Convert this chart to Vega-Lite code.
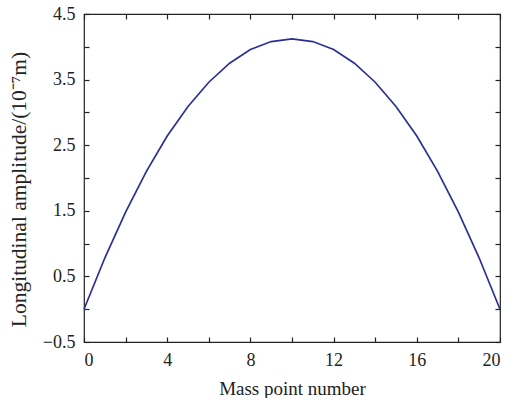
{
  "$schema": "https://vega.github.io/schema/vega-lite/v6.json",
  "width": 416,
  "height": 328,
  "autosize": {"type": "none"},
  "padding": {"left": 84, "top": 14, "right": 22, "bottom": 56},
  "background": "white",
  "config": {
    "view": {"stroke": "#222", "strokeWidth": 1.2},
    "axis": {
      "grid": false,
      "domain": false,
      "tickColor": "#222",
      "tickWidth": 1.2,
      "tickSize": -5,
      "labelFont": "Liberation Serif",
      "labelFontSize": 18,
      "labelColor": "#222",
      "titleFont": "Liberation Serif",
      "titleFontSize": 19,
      "titleFontWeight": "normal",
      "titleColor": "#222"
    }
  },
  "data": {
    "values": [
      {"point": 0, "amp": 0.0},
      {"point": 1, "amp": 0.78},
      {"point": 2, "amp": 1.48},
      {"point": 3, "amp": 2.10},
      {"point": 4, "amp": 2.64},
      {"point": 5, "amp": 3.09},
      {"point": 6, "amp": 3.46},
      {"point": 7, "amp": 3.75},
      {"point": 8, "amp": 3.96},
      {"point": 9, "amp": 4.08},
      {"point": 10, "amp": 4.12},
      {"point": 11, "amp": 4.08},
      {"point": 12, "amp": 3.96},
      {"point": 13, "amp": 3.75},
      {"point": 14, "amp": 3.46},
      {"point": 15, "amp": 3.09},
      {"point": 16, "amp": 2.64},
      {"point": 17, "amp": 2.10},
      {"point": 18, "amp": 1.48},
      {"point": 19, "amp": 0.78},
      {"point": 20, "amp": 0.0}
    ]
  },
  "layer": [
    {
      "mark": {"type": "line", "color": "#2b2f96", "strokeWidth": 1.7},
      "encoding": {
        "x": {
          "field": "point",
          "type": "quantitative",
          "scale": {"domain": [0, 20], "nice": false},
          "axis": {
            "title": "Mass point number",
            "values": [0, 2, 4, 6, 8, 10, 12, 14, 16, 18, 20],
            "labelExpr": "datum.value % 4 === 0 ? datum.value : ''",
            "labelPadding": 14,
            "titlePadding": 10
          }
        },
        "y": {
          "field": "amp",
          "type": "quantitative",
          "scale": {"domain": [-0.5, 4.5], "nice": false, "zero": false},
          "axis": {
            "title": "Longitudinal amplitude/(10⁻⁷m)",
            "titleFontSize": 21.5,
            "titleY": 175,
            "values": [-0.5, 0, 0.5, 1, 1.5, 2, 2.5, 3, 3.5, 4, 4.5],
            "labelExpr": "abs(round(datum.value * 2)) % 2 === 1 ? replace(format(datum.value, '.1f'), '-', '\u2212') : ''",
            "labelPadding": 14,
            "titlePadding": 12
          }
        }
      }
    },
    {
      "mark": {"type": "line", "opacity": 0},
      "encoding": {
        "x": {
          "field": "point",
          "type": "quantitative",
          "axis": {
            "orient": "top",
            "title": null,
            "labels": false,
            "values": [0, 2, 4, 6, 8, 10, 12, 14, 16, 18, 20]
          }
        },
        "y": {
          "field": "amp",
          "type": "quantitative",
          "axis": {
            "orient": "right",
            "title": null,
            "labels": false,
            "values": [-0.5, 0, 0.5, 1, 1.5, 2, 2.5, 3, 3.5, 4, 4.5]
          }
        }
      }
    }
  ],
  "resolve": {"axis": {"x": "independent", "y": "independent"}}
}
